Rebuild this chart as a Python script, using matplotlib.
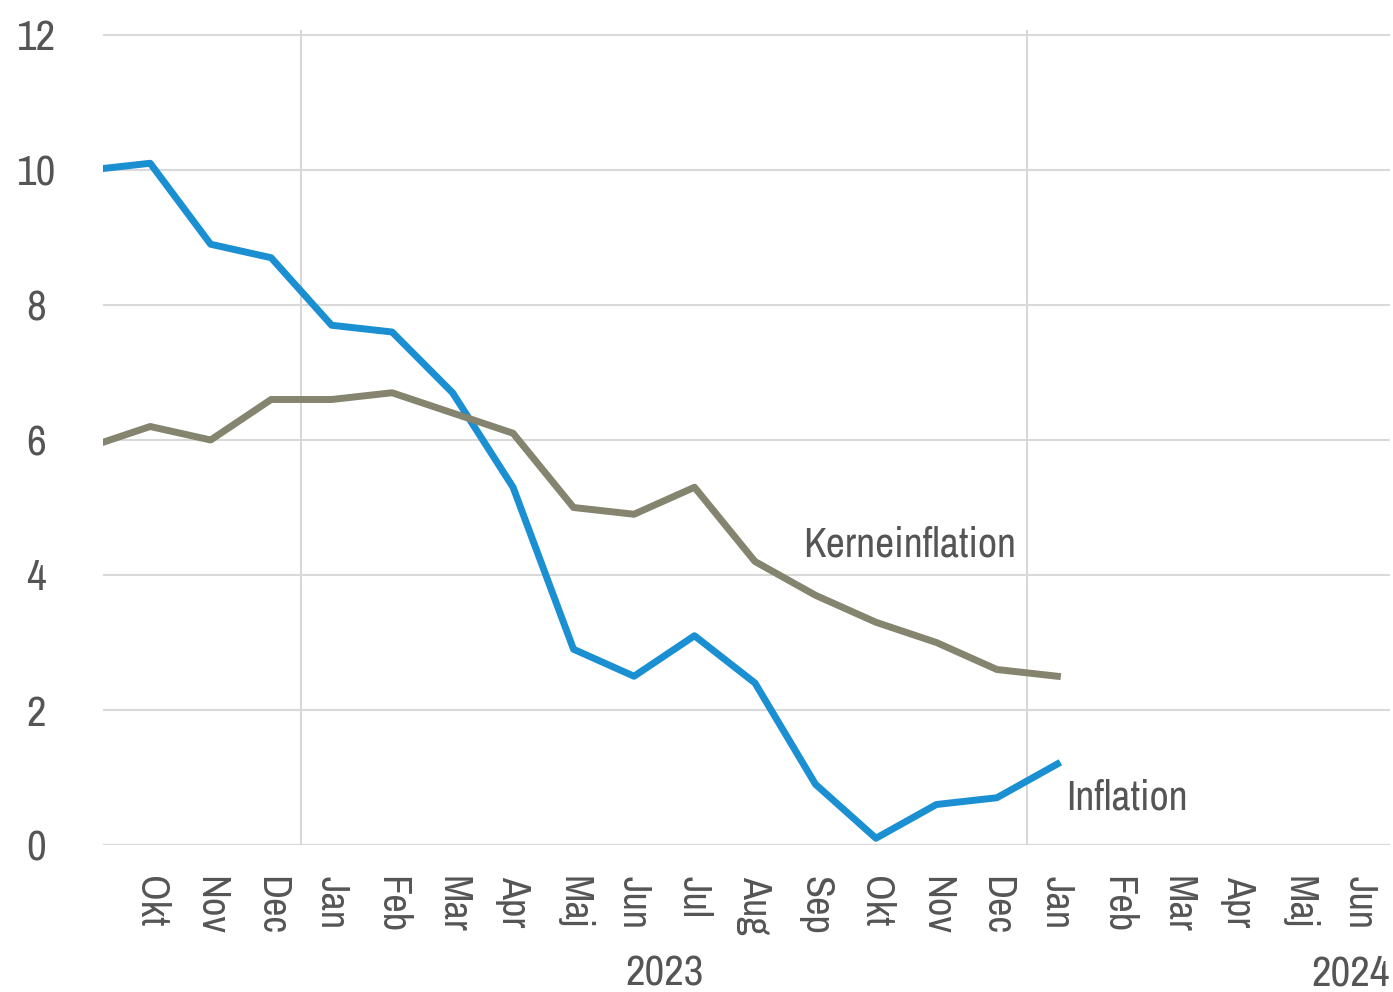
import matplotlib.pyplot as plt
from matplotlib import font_manager

names = {f.name for f in font_manager.fontManager.ttflist}
fam = 'Liberation Sans'
for cand in ['Arial Narrow', 'Liberation Sans Narrow', 'Archivo Narrow', 'PT Sans Narrow',
             'Roboto Condensed', 'Open Sans Condensed']:
    if cand in names:
        fam = cand
        break
plt.rcParams['font.family'] = [fam, 'DejaVu Sans']

# Month labels, Sep 2022 .. Jun 2024
months = ['Sep', 'Okt', 'Nov', 'Dec', 'Jan', 'Feb', 'Mar', 'Apr', 'Maj', 'Jun', 'Jul',
          'Aug', 'Sep', 'Okt', 'Nov', 'Dec', 'Jan', 'Feb', 'Mar', 'Apr', 'Maj', 'Jun']
# Inflation and core inflation (%), Sep 2022 .. Jan 2024
inflation = [10.0, 10.1, 8.9, 8.7, 7.7, 7.6, 6.7, 5.3, 2.9, 2.5, 3.1, 2.4, 0.9, 0.1, 0.6, 0.7, 1.2]
kerne = [5.9, 6.2, 6.0, 6.6, 6.6, 6.7, 6.4, 6.1, 5.0, 4.9, 5.3, 4.2, 3.7, 3.3, 3.0, 2.6, 2.5]
years = ['2023', '2024']

x = list(range(len(inflation)))
fig = plt.figure(figsize=(13.93, 9.92), dpi=100)
ax = fig.add_axes([103 / 1393, 147 / 992, 1287 / 1393, 815 / 992])

ax.plot(x, inflation, color='#1a8fd2', lw=5, zorder=3)
ax.plot(x, kerne, color='#84846f', lw=5, zorder=3)

ax.set_yticks(range(0, 13, 2))
ax.set_xticks(range(len(months)))
ax.set_xticklabels(months, rotation=270, fontsize=29, color='#555555', va='top', ha='center')
ax.set_xlim(0.22, 21.5)
ax.set_ylim(0, 12 + 5 / 67.5)
ax.tick_params(axis='y', labelsize=31, labelcolor='#555555', length=0, pad=48)
ax.tick_params(axis='x', length=0, pad=22)
for lab in ax.get_yticklabels():
    lab.set_horizontalalignment('center')

for s in ax.spines.values():
    s.set_visible(False)
ax.grid(axis='y', color='#d9d9d9', lw=1.5)
ax.axhline(0, color='#d0d0d0', lw=1.5, zorder=1)
for yb in (3.5, 15.5):
    ax.axvline(yb, color='#cfcfcf', lw=1.2, zorder=1)

ax.text(11.8, 4.45, 'Kerneinflation', fontsize=30, color='#555555', va='center', ha='left')
ax.text(16.15, 0.7, 'Inflation', fontsize=30, color='#555555', va='center', ha='left')

ax.text(9.5, -1.9, years[0], fontsize=31, color='#555555',
        ha='center', va='center', clip_on=False)
ax.text(21.5, -1.9, years[1], fontsize=31, color='#555555',
        ha='right', va='center', clip_on=False)

fig.savefig('out.png', dpi=100)
